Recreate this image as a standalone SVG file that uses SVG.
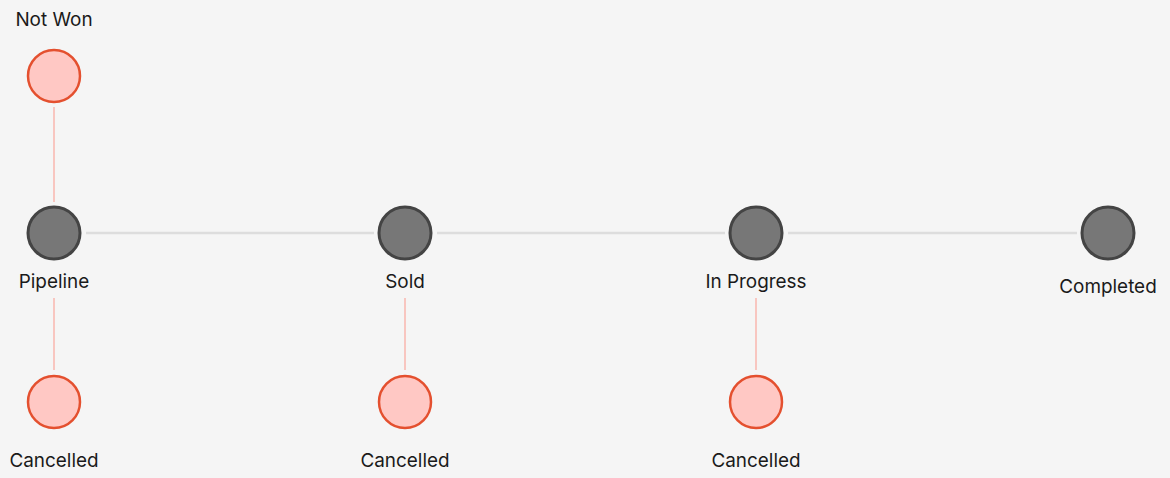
<svg xmlns="http://www.w3.org/2000/svg" width="1170" height="478" viewBox="0 0 1170 478">
<style>
.main{fill:#777777;stroke:#444444;stroke-width:3}
.alt{fill:#FFC8C4;stroke:#E4502F;stroke-width:2.5}
.hl{stroke:#DDDDDD;stroke-width:2.5;fill:none}
.vl{stroke:#F8C6C0;stroke-width:2;fill:none}
text{font-family:Inter,"Noto Sans",sans-serif;font-size:18.9px;fill:#1A1A1A;text-anchor:middle}
</style>
<rect width="1170" height="478" fill="#F5F5F5"/>
<g id="connectors">
<line class="hl" x1="86" y1="233" x2="374" y2="233"/>
<line class="hl" x1="437" y1="233" x2="725" y2="233"/>
<line class="hl" x1="788" y1="233" x2="1077" y2="233"/>
<line class="vl" x1="54" y1="107" x2="54" y2="202"/>
<line class="vl" x1="54" y1="298" x2="54" y2="370"/>
<line class="vl" x1="405" y1="298" x2="405" y2="370"/>
<line class="vl" x1="756" y1="298" x2="756" y2="370"/>
</g>
<g id="not-won"><circle class="alt" cx="54" cy="76" r="26"/><text x="54" y="26">Not Won</text></g>
<g id="pipeline"><circle class="main" cx="54" cy="233" r="26"/><text x="54" y="288">Pipeline</text></g>
<g id="sold"><circle class="main" cx="405" cy="233" r="26"/><text x="405" y="288">Sold</text></g>
<g id="in-progress"><circle class="main" cx="756" cy="233" r="26"/><text x="756" y="288">In Progress</text></g>
<g id="completed"><circle class="main" cx="1108" cy="233" r="26"/><text x="1108" y="293">Completed</text></g>
<g id="cancelled-1"><circle class="alt" cx="54" cy="402" r="26"/><text x="54" y="467">Cancelled</text></g>
<g id="cancelled-2"><circle class="alt" cx="405" cy="402" r="26"/><text x="405" y="467">Cancelled</text></g>
<g id="cancelled-3"><circle class="alt" cx="756" cy="402" r="26"/><text x="756" y="467">Cancelled</text></g>
</svg>
